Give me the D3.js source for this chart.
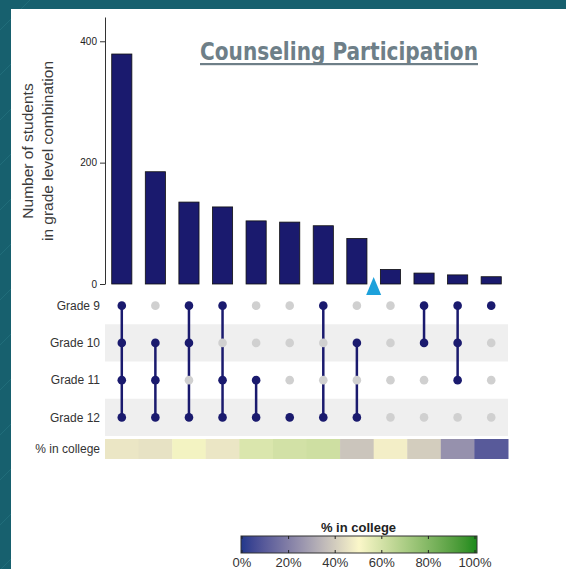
<!DOCTYPE html>
<html>
<head>
<meta charset="utf-8">
<script src="https://cdn.jsdelivr.net/npm/d3@7"></script>
<style>
  body { margin: 0; background: #17606e; }
  svg { display: block; }
</style>
</head>
<body>
<svg id="chart"></svg>
<script>
// students per grade-level combination (bars, left to right)
const counts = [379, 185, 135, 127, 104, 102, 96, 75, 24, 18, 15, 12];
const grades = ["Grade 9", "Grade 10", "Grade 11", "Grade 12"];
// which grades are in each combination
const sets = [
  ["Grade 9", "Grade 10", "Grade 11", "Grade 12"],
  ["Grade 10", "Grade 11", "Grade 12"],
  ["Grade 9", "Grade 10", "Grade 12"],
  ["Grade 9", "Grade 11", "Grade 12"],
  ["Grade 11", "Grade 12"],
  ["Grade 12"],
  ["Grade 9", "Grade 12"],
  ["Grade 10", "Grade 12"],
  [],
  ["Grade 9", "Grade 10"],
  ["Grade 9", "Grade 10", "Grade 11"],
  ["Grade 9"]
];
const pctCollege = [46, 45, 52, 46, 58, 60, 61, 38, 48, 40, 25, 10];
const yTicks = [0, 200, 400];
const legendTicks = [0, 20, 40, 60, 80, 100];

const width = 566, height = 569;
const svg = d3.select("#chart").attr("width", width).attr("height", height);

// slide background
svg.append("rect").attr("width", width).attr("height", height).attr("fill", "#17606e");
const streaks = svg.append("g").attr("stroke", "#2a7a86").attr("stroke-width", 1).attr("opacity", 0.5);
d3.range(0, 600, 45).forEach(k => {
  streaks.append("line").attr("x1", 0).attr("y1", k + 30).attr("x2", 30).attr("y2", k);
});
svg.append("rect").attr("x", 11).attr("y", 9).attr("width", width - 11).attr("height", height - 9).attr("fill", "#fff");

const idx = d3.range(counts.length);
const x = d3.scaleBand().domain(idx).range([105, 508]).paddingInner(0.4).paddingOuter(0.2);
const xCell = d3.scaleBand().domain(idx).range([105, 508]).padding(0);
const y = d3.scaleLinear().domain([0, 440]).range([284, 17]);
const row = d3.scaleBand().domain(grades).range([287, 436]);
const color = d3.scaleLinear().domain([0, 50, 100])
  .range(["#22388c", "#fbf7c9", "#1a8a1a"])
  .interpolate(d3.interpolateLab);

// bars
svg.append("g").selectAll("rect").data(counts).join("rect")
  .attr("x", (d, i) => x(i))
  .attr("y", d => y(d))
  .attr("width", x.bandwidth())
  .attr("height", d => y(0) - y(d))
  .attr("fill", "#1a1a6e")
  .attr("stroke", "#111")
  .attr("stroke-width", 0.8);

// y axis
const yAxis = svg.append("g")
  .attr("transform", "translate(105,0)")
  .call(d3.axisLeft(y).tickValues(yTicks).tickSize(5).tickSizeOuter(0));
yAxis.select(".domain").attr("stroke", "#333");
yAxis.selectAll(".tick line").attr("stroke", "#333");
yAxis.selectAll("text").attr("fill", "#222").attr("font-size", 10)
  .attr("font-family", "'Liberation Sans Narrow', 'Liberation Sans', Arial, sans-serif");

// axis title
const yTitle = svg.append("text")
  .attr("transform", "translate(33,151) rotate(-90)")
  .attr("text-anchor", "middle")
  .attr("font-family", "'Liberation Sans', Arial, sans-serif")
  .attr("font-size", 15.5)
  .attr("fill", "#3a3a3a");
yTitle.append("tspan").attr("x", 0).attr("dy", 0).text("Number of students");
yTitle.append("tspan").attr("x", 0).attr("dy", 20).text("in grade level combination");

// title
svg.append("text")
  .attr("x", 200).attr("y", 60)
  .attr("textLength", 278).attr("lengthAdjust", "spacingAndGlyphs")
  .attr("font-family", "'DejaVu Sans Condensed', 'DejaVu Sans', sans-serif")
  .attr("font-weight", "bold")
  .attr("font-size", 24)
  .attr("fill", "#6e7f88")
  .text("Counseling Participation");
svg.append("rect").attr("x", 200).attr("y", 63).attr("width", 278).attr("height", 2.2).attr("fill", "#6e7f88");

// matrix shading
svg.append("g").selectAll("rect").data(grades.filter((g, i) => i % 2 === 1)).join("rect")
  .attr("x", 105).attr("width", 403)
  .attr("y", d => row(d)).attr("height", row.bandwidth())
  .attr("fill", "#efefef");

// row labels
const labelFont = "'Liberation Sans', Arial, sans-serif";
svg.append("g").selectAll("text").data(grades).join("text")
  .attr("x", 100).attr("y", d => row(d) + row.bandwidth() / 2)
  .attr("dy", "0.35em")
  .attr("text-anchor", "end")
  .attr("font-family", labelFont).attr("font-size", 12).attr("fill", "#333")
  .text(d => d);

// connecting lines
const cx = i => x(i) + x.bandwidth() / 2;
const cy = g => row(g) + row.bandwidth() / 2;
svg.append("g").selectAll("line").data(sets.map((s, i) => ({s, i})).filter(d => d.s.length > 1)).join("line")
  .attr("x1", d => cx(d.i)).attr("x2", d => cx(d.i))
  .attr("y1", d => d3.min(d.s, cy)).attr("y2", d => d3.max(d.s, cy))
  .attr("stroke", "#1a1a6e").attr("stroke-width", 2.5);

// dots
const dots = [];
sets.forEach((s, i) => grades.forEach(g => dots.push({i, g, on: s.includes(g)})));
svg.append("g").selectAll("circle").data(dots).join("circle")
  .attr("cx", d => cx(d.i)).attr("cy", d => cy(d.g))
  .attr("r", 4.3)
  .attr("fill", d => d.on ? "#1a1a6e" : "#d0d0d0");

// % in college heat row
svg.append("g").selectAll("rect").data(pctCollege).join("rect")
  .attr("x", (d, i) => xCell(i)).attr("width", xCell.bandwidth() + 0.5)
  .attr("y", 439).attr("height", 20)
  .attr("fill", d => color(d));
svg.append("text")
  .attr("x", 100).attr("y", 449).attr("dy", "0.35em")
  .attr("text-anchor", "end")
  .attr("font-family", labelFont).attr("font-size", 12).attr("fill", "#333")
  .text("% in college");

// marker
const mx = xCell(8), my = y(0) - 7;
svg.append("path")
  .attr("d", `M${mx},${my} L${mx + 7.5},${my + 18} L${mx - 7.5},${my + 18} Z`)
  .attr("fill", "#1da1db");

// legend
const lx = d3.scaleLinear().domain([0, 100]).range([242, 475]);
const grad = svg.append("defs").append("linearGradient").attr("id", "lg");
d3.range(0, 101, 5).forEach(v => {
  grad.append("stop").attr("offset", v + "%").attr("stop-color", color(v));
});
svg.append("rect")
  .attr("x", lx(0) - 1).attr("y", 536).attr("width", lx(100) - lx(0) + 3).attr("height", 17)
  .attr("fill", "url(#lg)").attr("stroke", "#333").attr("stroke-width", 1);
const lt = svg.append("g");
lt.selectAll("line.t").data(legendTicks).join("line").attr("class", "t")
  .attr("x1", d => lx(d)).attr("x2", d => lx(d)).attr("y1", 536).attr("y2", 539)
  .attr("stroke", "#222");
lt.selectAll("line.b").data(legendTicks).join("line").attr("class", "b")
  .attr("x1", d => lx(d)).attr("x2", d => lx(d)).attr("y1", 550).attr("y2", 553)
  .attr("stroke", "#222");
lt.selectAll("text").data(legendTicks).join("text")
  .attr("x", d => lx(d)).attr("y", 567)
  .attr("text-anchor", "middle")
  .attr("font-family", labelFont).attr("font-size", 13).attr("fill", "#333")
  .text(d => d + "%");
svg.append("text")
  .attr("x", (lx(0) + lx(100)) / 2).attr("y", 532)
  .attr("text-anchor", "middle")
  .attr("font-family", labelFont).attr("font-size", 13).attr("font-weight", "bold").attr("fill", "#222")
  .text("% in college");
</script>
</body>
</html>
